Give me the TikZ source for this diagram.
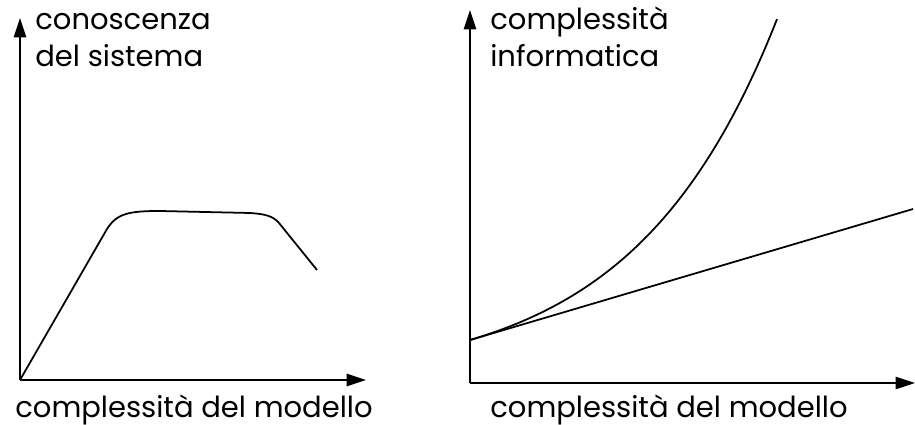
\documentclass[tikz,border=0pt]{standalone}
\usepackage{fontspec}
\setmainfont{Poppins}
\usetikzlibrary{arrows.meta}

\begin{document}
\begin{tikzpicture}[x=0.02cm,y=-0.02cm,
    axis/.style={line width=1.1pt,-{Triangle[length=11pt,width=7pt]}},
    curve/.style={line width=1pt},
    lab/.style={anchor=base west,inner sep=0pt,font=\fontsize{16.5}{20}\selectfont}]
    \useasboundingbox (0,0) rectangle (915,425);
    % grafico di sinistra
    \coordinate (O1) at (20,380);
    \coordinate (Y1) at (20,18);
    \coordinate (X1) at (366,380);
    \draw[axis] (O1) -- (Y1);
    \draw[axis] (O1) -- (X1);
    \node[lab] (cono) at (35,30) {conoscenza};
    \node[lab] (sist) at (35,67) {del sistema};
    \node[lab] (mod1) at (15,417) {complessità del modello};
    \draw[curve] (O1) -- (107,229) .. controls (117,213) and (130,211) .. (160,211)
        -- (250,213) .. controls (265,214) and (273,216) .. (279,223) -- (317,270);
    % grafico di destra
    \coordinate (O2) at (470,383);
    \coordinate (Y2) at (470,10);
    \coordinate (X2) at (915,383);
    \coordinate (B) at (470,340);
    \coordinate (L) at (913,209);
    \draw[axis] (O2) -- (Y2);
    \draw[axis] (O2) -- (X2);
    \node[lab] (comp) at (490,30) {complessità};
    \node[lab] (info) at (490,67) {informatica};
    \node[lab] (mod2) at (490,417) {complessità del modello};
    \draw[curve] (B) -- (L);
    \draw[curve] plot[domain=0:307,samples=80] ({470+\x},{340-42.3*(exp(0.007*\x)-1)});
\end{tikzpicture}
\end{document}
